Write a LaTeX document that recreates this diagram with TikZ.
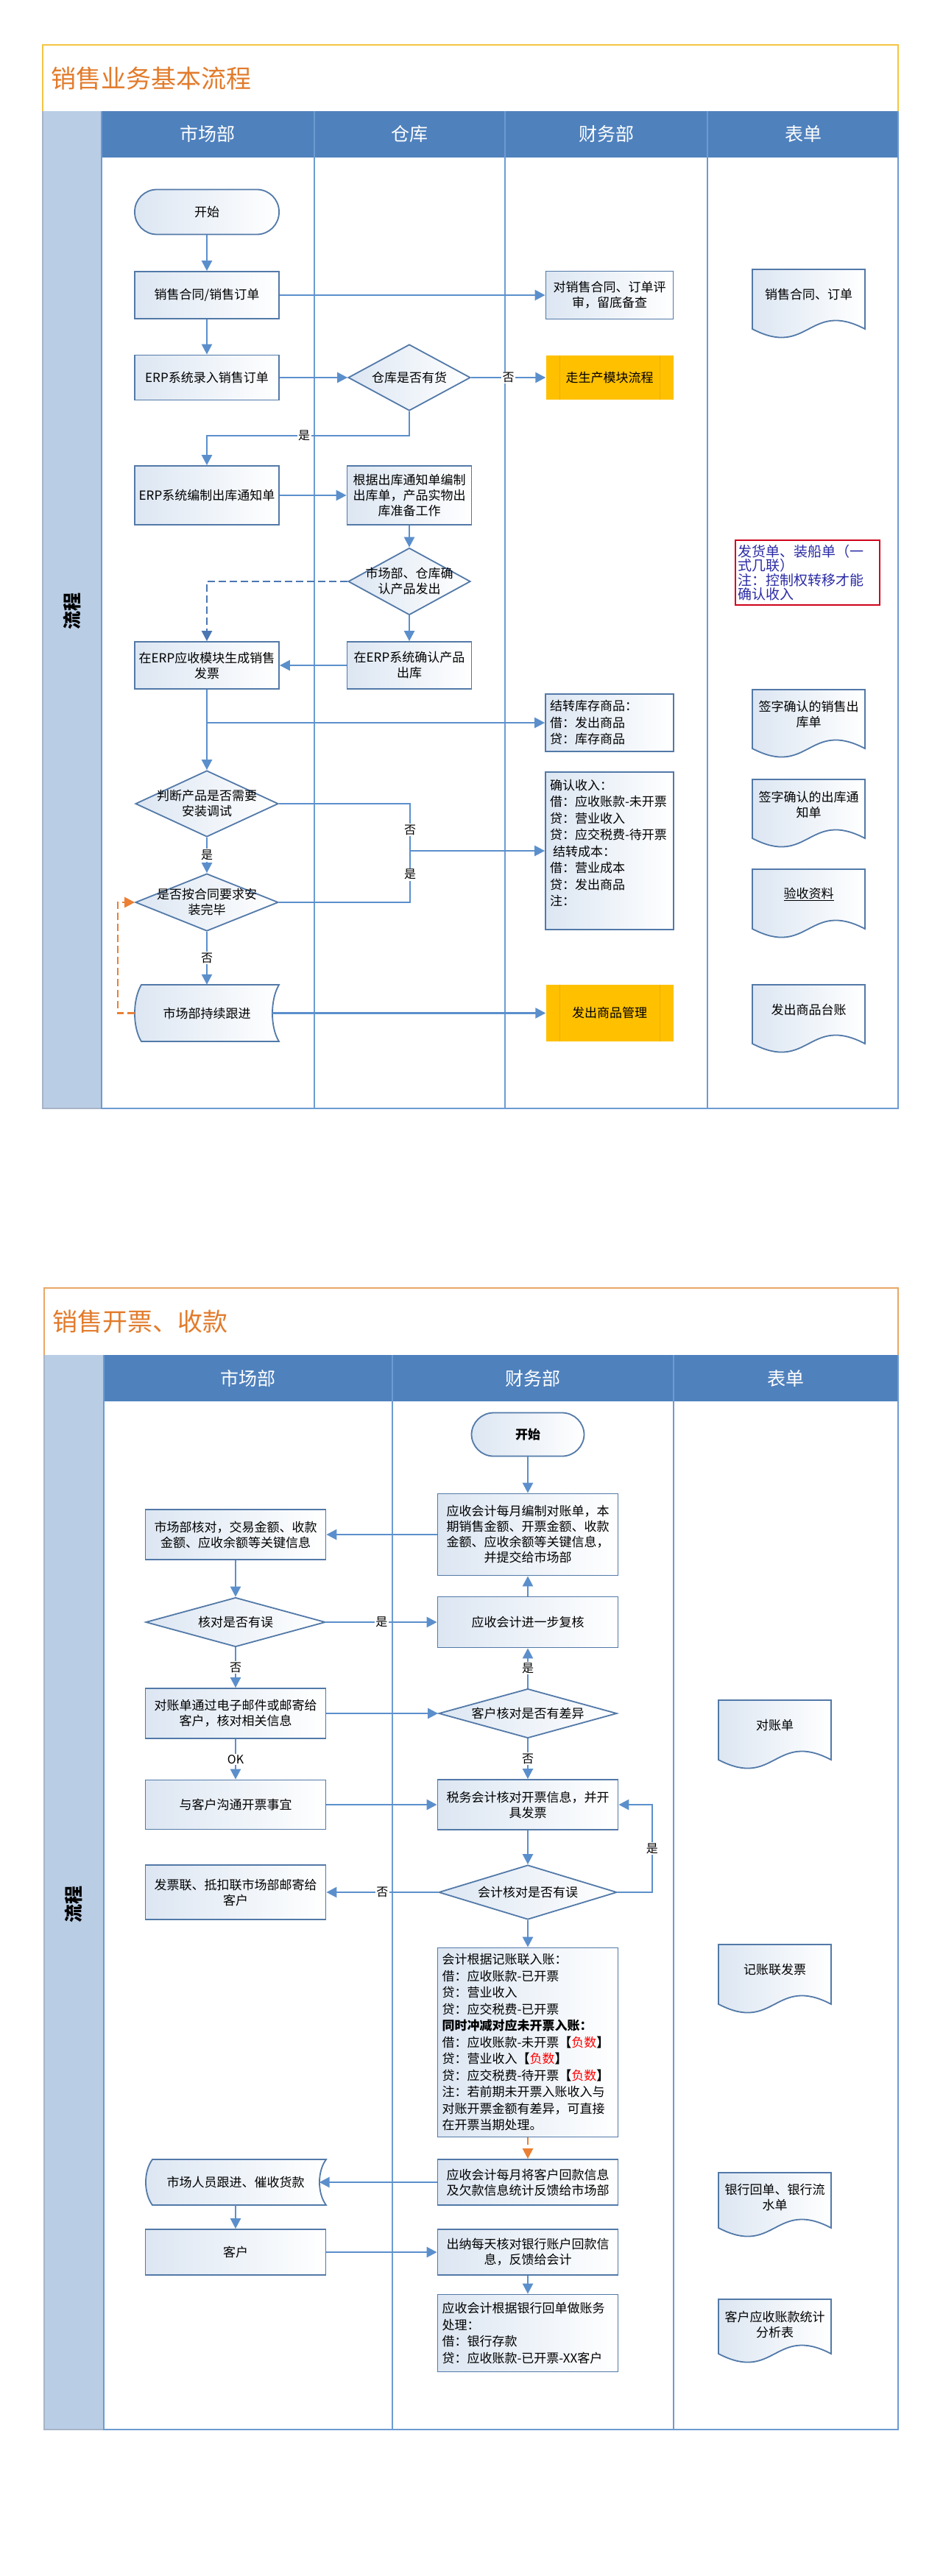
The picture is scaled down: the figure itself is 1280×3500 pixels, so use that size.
\documentclass[tikz,border=0pt]{standalone}
\usepackage{fontspec}
\setmainfont{Noto Sans CJK SC}
\usetikzlibrary{arrows.meta,shapes.geometric}

\definecolor{laneblue}{HTML}{6C9BD2}
\definecolor{headblue}{HTML}{4F81BD}
\definecolor{sideblue}{HTML}{B9CDE5}
\definecolor{sidegray}{HTML}{A7B4C6}
\definecolor{boxline}{HTML}{5279A8}
\definecolor{boxshade}{HTML}{DCE6F2}
\definecolor{flowblue}{HTML}{5B8FCC}
\definecolor{gold}{HTML}{FFC000}
\definecolor{goldline}{HTML}{EBAE00}
\definecolor{titleorange}{HTML}{E27B2B}
\definecolor{frameyellow}{HTML}{F4C542}
\definecolor{frameorange}{HTML}{E9A765}
\definecolor{notered}{HTML}{D0021B}
\definecolor{noteblue}{HTML}{2B2BA6}
\definecolor{dashorange}{HTML}{EB7F33}
\definecolor{dashblue}{HTML}{4B77B2}

\newcommand\fbfont{\fontsize{17pt}{21pt}\selectfont}
\newcommand\fledger{\fontsize{17pt}{22.5pt}\selectfont}
\newcommand\fhead{\fontsize{25pt}{28pt}\selectfont}
\newcommand\ftitle{\fontsize{34pt}{38pt}\selectfont}
\newcommand\ftag{\fontsize{16pt}{18pt}\selectfont}
\newcommand\fnote{\fontsize{19pt}{19.5pt}\selectfont}

% document shape of the form column
\newcommand{\formdoc}[5]{%
  \path[docline] (#2,#3) -- (#2+153,#3) -- (#2+153,#4)
    .. controls (#2+76.5,#4-40) and (#2+76.5,#4+40) .. (#2,#4) -- cycle;
  \node[doctext] (#1) at (#2+76.5,#3+34) {#5};}

\tikzset{
  lane/.style={draw=laneblue, line width=2pt},
  lanehead/.style={text=white, font=\fhead},
  sidelabel/.style={rotate=90, font=\fhead\bfseries},
  boxsize/.style 2 args={minimum width=#1, minimum height=#2},
  stepbox/.style={draw=boxline, line width=1.8pt, left color=boxshade, right color=white,
    align=center, font=\fbfont, inner sep=2pt},
  terminal/.style={stepbox, rounded corners=30pt},
  ledger/.style={stepbox, align=left, font=\fledger, text width=#1},
  decision/.style={diamond, draw=boxline, line width=1.8pt, left color=boxshade,
    right color=white, inner sep=0pt},
  dtext/.style={align=center, font=\fbfont, inner sep=0pt},
  plainbox/.style={align=center, font=\fbfont, inner sep=0pt},
  goldbox/.style={fill=gold, align=center, font=\fbfont, inner sep=0pt},
  goldrule/.style={draw=goldline, line width=1pt},
  docline/.style={draw=boxline, line width=1.8pt, left color=boxshade, right color=white},
  doctext/.style={align=center, font=\fbfont, inner sep=0pt},
  storedline/.style={draw=boxline, line width=1.8pt, left color=boxshade, right color=white},
  notebox/.style={draw=notered, line width=2.5pt, fill=white, align=left, text=noteblue,
    font=\fnote, text width=190pt, inner xsep=3pt, minimum height=88pt},
  flow/.style={draw=flowblue, line width=2.5pt, -{Triangle[length=14pt,width=14pt]}},
  plainflow/.style={draw=flowblue, line width=2.5pt},
  dashflow/.style={draw=dashblue, line width=2.5pt, dash pattern=on 10pt off 5pt,
    -{Triangle[length=14pt,width=14pt]}},
  orangeflow/.style={draw=dashorange, line width=2.5pt, dash pattern=on 10pt off 5pt,
    -{Triangle[length=14pt,width=14pt]}},
  yesno/.style={fill=white, inner sep=1.5pt, font=\ftag},
}

\begin{document}
\begin{tikzpicture}[x=1pt,y=-1pt]
\useasboundingbox (0,0) rectangle (1280,3500);
\fill[white] (0,0) rectangle (1280,3500);

% ================= 销售业务基本流程 =================
\draw[frameyellow, line width=2.5pt] (58,151) -- (58,61) -- (1220,61) -- (1220,151);
\node[anchor=west, inner sep=0pt, text=titleorange, font=\ftitle] (title1) at (69,107) {销售业务基本流程};
\fill[sideblue] (58,151) rectangle (138,1506);
\draw[sidegray, line width=1.5pt] (58,151) -- (58,1506) -- (138,1506);
\fill[headblue] (138,151) rectangle (1220,214);
\foreach \x in {427,686,961}
  \draw[lane] (\x,151) -- (\x,1506);
\draw[lane] (138,151) -- (138,1506) -- (1220,1506) -- (1220,151);
\node[lanehead] (mkt1) at (282,182) {市场部};
\node[lanehead] (wh1) at (556,182) {仓库};
\node[lanehead] (fin1) at (824,182) {财务部};
\node[lanehead] (form1) at (1091,182) {表单};
\node[sidelabel] (side1) at (98,830) {流程};

% steps
\node[terminal, boxsize={196pt}{61pt}] (start) at (281,288) {开始};
\node[stepbox, boxsize={196pt}{64pt}] (order) at (281,401) {销售合同/销售订单};
\node[stepbox, boxsize={196pt}{61pt}] (entry) at (281,513) {ERP系统录入销售订单};
\node[decision, boxsize={166pt}{90pt}, label={[dtext]center:仓库是否有货}] (stock) at (556,513) {};
\node[stepbox, boxsize={173pt}{65pt}] (review) at (828,401) {对销售合同、订单评\\审，留底备查};
\node[goldbox, boxsize={173pt}{60pt}] (produce) at (828,513) {走生产模块流程};
\draw[goldrule] ([xshift=19pt]produce.north west) -- ([xshift=19pt]produce.south west);
\draw[goldrule] ([xshift=-18pt]produce.north east) -- ([xshift=-18pt]produce.south east);
\node[stepbox, boxsize={196pt}{80pt}] (notice) at (281,673) {ERP系统编制出库通知单};
\node[stepbox, boxsize={169pt}{80pt}] (pick) at (556,673) {根据出库通知单编制\\出库单，产品实物出\\库准备工作};
\node[decision, boxsize={166pt}{91pt}, label={[dtext]center:{市场部、仓库确\\认产品发出}}] (confirm) at (556,790) {};
\node[stepbox, boxsize={196pt}{64pt}] (invoice) at (281,904) {在ERP应收模块生成销售\\发票};
\node[stepbox, boxsize={169pt}{64pt}] (outbound) at (556,904) {在ERP系统确认产品\\出库};
\node[ledger=162pt, boxsize={174pt}{78pt}] (carry) at (828,982) {结转库存商品：\\借：发出商品\\贷：库存商品};
\node[ledger=162pt, boxsize={174pt}{214pt}] (income) at (828,1156) {确认收入：\\借：应收账款-未开票\\贷：营业收入\\贷：应交税费-待开票\\\hspace*{4pt}结转成本：\\借：营业成本\\贷：发出商品\\注：\\\mbox{}};
\node[decision, boxsize={194pt}{90pt}, label={[dtext]center:{判断产品是否需要\\安装调试}}] (judge) at (281,1092) {};
\node[decision, boxsize={194pt}{78pt}, label={[dtext]center:{是否按合同要求安\\装完毕}}] (install) at (281,1226) {};
\path[storedline] (192,1338) -- (379,1338) .. controls (367,1358) and (367,1396) .. (379,1415)
  -- (192,1415) .. controls (180,1396) and (180,1358) .. (192,1338) -- cycle;
\node[plainbox, boxsize={196pt}{77pt}] (follow) at (281,1376.5) {市场部持续跟进};
\node[goldbox, boxsize={173pt}{77pt}] (goods) at (828,1376.5) {发出商品管理};
\draw[goldrule] ([xshift=19pt]goods.north west) -- ([xshift=19pt]goods.south west);
\draw[goldrule] ([xshift=-18pt]goods.north east) -- ([xshift=-18pt]goods.south east);
\node[notebox] (note) at (1097,778) {发货单、装船单（一\\式几联）\\注：控制权转移才能\\确认收入};

% forms
\formdoc{doc1}{1022}{366}{447}{销售合同、订单}
\formdoc{doc2}{1022}{937}{1017}{签字确认的销售出\\库单}
\formdoc{doc3}{1022}{1059}{1139}{签字确认的出库通\\知单}
\formdoc{doc4}{1022}{1181}{1262}{\underline{验收资料}}
\formdoc{doc5}{1022}{1338}{1418}{发出商品台账}

% connectors
\coordinate (split) at (281,982);
\coordinate (merge) at (557,1156);
\draw[flow] (start) -- (order);
\draw[flow] (order) -- (entry);
\draw[flow] (order) -- (review);
\draw[flow] (entry) -- (stock);
\draw[flow] (stock) -- node[yesno]{否} (produce);
\draw[flow] (stock.south) -- ++(0,33) -| node[yesno, pos=0.26]{是} (notice.north);
\draw[flow] (notice) -- (pick);
\draw[flow] (pick) -- (confirm);
\draw[flow] (confirm) -- (outbound);
\draw[flow] (outbound) -- (invoice);
\draw[dashflow] (confirm.west) -| (invoice.north);
\draw[plainflow] (invoice) -- (split);
\draw[flow] (split) -- (carry);
\draw[flow] (split) -- (judge);
\draw[plainflow] (judge.east) -| node[yesno, pos=0.78]{否} (merge);
\draw[plainflow] (install.east) -| node[yesno, pos=0.77]{是} (merge);
\draw[flow] (merge) -- (income);
\draw[flow] (judge) -- node[yesno]{是} (install);
\draw[flow] (install) -- node[yesno]{否} (follow);
\draw[orangeflow] (follow.west) -- ++(-23,0) |- (install.west);
\draw[flow] ([xshift=-9pt]follow.east) -- (goods);

% ================= 销售开票、收款 =================
\draw[frameorange, line width=2.5pt] (60,1841) -- (60,1750) -- (1220,1750) -- (1220,1841);
\node[anchor=west, inner sep=0pt, text=titleorange, font=\ftitle] (title2) at (71,1796) {销售开票、收款};
\fill[sideblue] (60,1841) rectangle (141,3301);
\draw[sidegray, line width=1.5pt] (60,1841) -- (60,3301) -- (141,3301);
\fill[headblue] (141,1841) rectangle (1220,1904);
\foreach \x in {533,915}
  \draw[lane] (\x,1841) -- (\x,3301);
\draw[lane] (141,1841) -- (141,3301) -- (1220,3301) -- (1220,1841);
\node[lanehead] (mkt2) at (337,1873) {市场部};
\node[lanehead] (fin2) at (724,1873) {财务部};
\node[lanehead] (form2) at (1067,1873) {表单};
\node[sidelabel] (side2) at (100,2587) {流程};

% steps
\node[terminal, boxsize={153pt}{59pt}] (bstart) at (717,1949) {\bfseries 开始};
\node[stepbox, boxsize={245pt}{111pt}] (statement) at (717,2085) {应收会计每月编制对账单，本\\期销售金额、开票金额、收款\\金额、应收余额等关键信息，\\并提交给市场部};
\node[stepbox, boxsize={245pt}{68pt}] (check) at (320,2085) {市场部核对，交易金额、收款\\金额、应收余额等关键信息};
\node[decision, boxsize={244pt}{67pt}, label={[dtext]center:核对是否有误}] (checkerr) at (320,2204) {};
\node[stepbox, boxsize={245pt}{69pt}] (recheck) at (717,2204) {应收会计进一步复核};
\node[decision, boxsize={242pt}{67pt}, label={[dtext]center:客户核对是否有差异}] (custdiff) at (717,2328) {};
\node[stepbox, boxsize={245pt}{68pt}] (mail) at (320,2328) {对账单通过电子邮件或邮寄给\\客户，核对相关信息};
\node[stepbox, boxsize={245pt}{67pt}] (talk) at (320,2452) {与客户沟通开票事宜};
\node[stepbox, boxsize={245pt}{68pt}] (issue) at (717,2452) {税务会计核对开票信息，并开\\具发票};
\node[decision, boxsize={242pt}{74pt}, label={[dtext]center:会计核对是否有误}] (accerr) at (717,2571) {};
\node[stepbox, boxsize={245pt}{74pt}] (post) at (320,2571) {发票联、抵扣联市场部邮寄给\\客户};
\node[ledger=233pt, boxsize={245pt}{257pt}] (book) at (717,2775) {会计根据记账联入账：\\借：应收账款-已开票\\贷：营业收入\\贷：应交税费-已开票\\\textbf{同时冲减对应未开票入账：}\\借：应收账款-未开票\textbf{【}\textcolor{red}{负数}\textbf{】}\\贷：营业收入\textbf{【}\textcolor{red}{负数}\textbf{】}\\贷：应交税费-待开票\textbf{【}\textcolor{red}{负数}\textbf{】}\\注：若前期未开票入账收入与\\对账开票金额有差异，可直接\\在开票当期处理。};
\node[stepbox, boxsize={245pt}{62pt}] (feedback) at (717,2965) {应收会计每月将客户回款信息\\及欠款信息统计反馈给市场部};
\path[storedline] (207,2934) -- (443,2934) .. controls (431,2950) and (431,2980) .. (443,2996)
  -- (207,2996) .. controls (195,2980) and (195,2950) .. (207,2934) -- cycle;
\node[plainbox, boxsize={245pt}{62pt}] (urge) at (320,2965) {市场人员跟进、催收货款};
\node[stepbox, boxsize={245pt}{62pt}] (client) at (320,3060) {客户};
\node[stepbox, boxsize={245pt}{62pt}] (cashier) at (717,3060) {出纳每天核对银行账户回款信\\息，反馈给会计};
\node[ledger=233pt, boxsize={245pt}{105pt}] (bankbook) at (717,3170) {应收会计根据银行回单做账务\\处理：\\借：银行存款\\贷：应收账款-已开票-XX客户};

% forms
\formdoc{doc6}{976}{2310}{2391}{对账单}
\formdoc{doc7}{976}{2642}{2723}{记账联发票}
\formdoc{doc8}{976}{2952}{3027}{银行回单、银行流\\水单}
\formdoc{doc9}{976}{3124}{3198}{客户应收账款统计\\分析表}

% connectors
\draw[flow] (bstart) -- (statement);
\draw[flow] (statement) -- (check);
\draw[flow] (check) -- (checkerr);
\draw[flow] (checkerr) -- node[yesno]{是} (recheck);
\draw[flow] (recheck) -- (statement);
\draw[flow] (custdiff) -- node[yesno]{是} (recheck);
\draw[flow] (checkerr) -- node[yesno]{否} (mail);
\draw[flow] (mail) -- (custdiff);
\draw[flow] (mail) -- node[yesno]{OK} (talk);
\draw[flow] (talk) -- (issue);
\draw[flow] (custdiff) -- node[yesno]{否} (issue);
\draw[flow] (issue) -- (accerr);
\draw[flow] (accerr.east) -- ++(47,0) |- node[yesno, pos=0.25]{是} (issue.east);
\draw[flow] (accerr) -- node[yesno]{否} (post);
\draw[flow] (accerr) -- (book);
\draw[orangeflow] (book) -- (feedback);
\draw[flow] (feedback) -- ([xshift=-9pt]urge.east);
\draw[flow] (urge) -- (client);
\draw[flow] (client) -- (cashier);
\draw[flow] (cashier) -- (bankbook);
\end{tikzpicture}
\end{document}
